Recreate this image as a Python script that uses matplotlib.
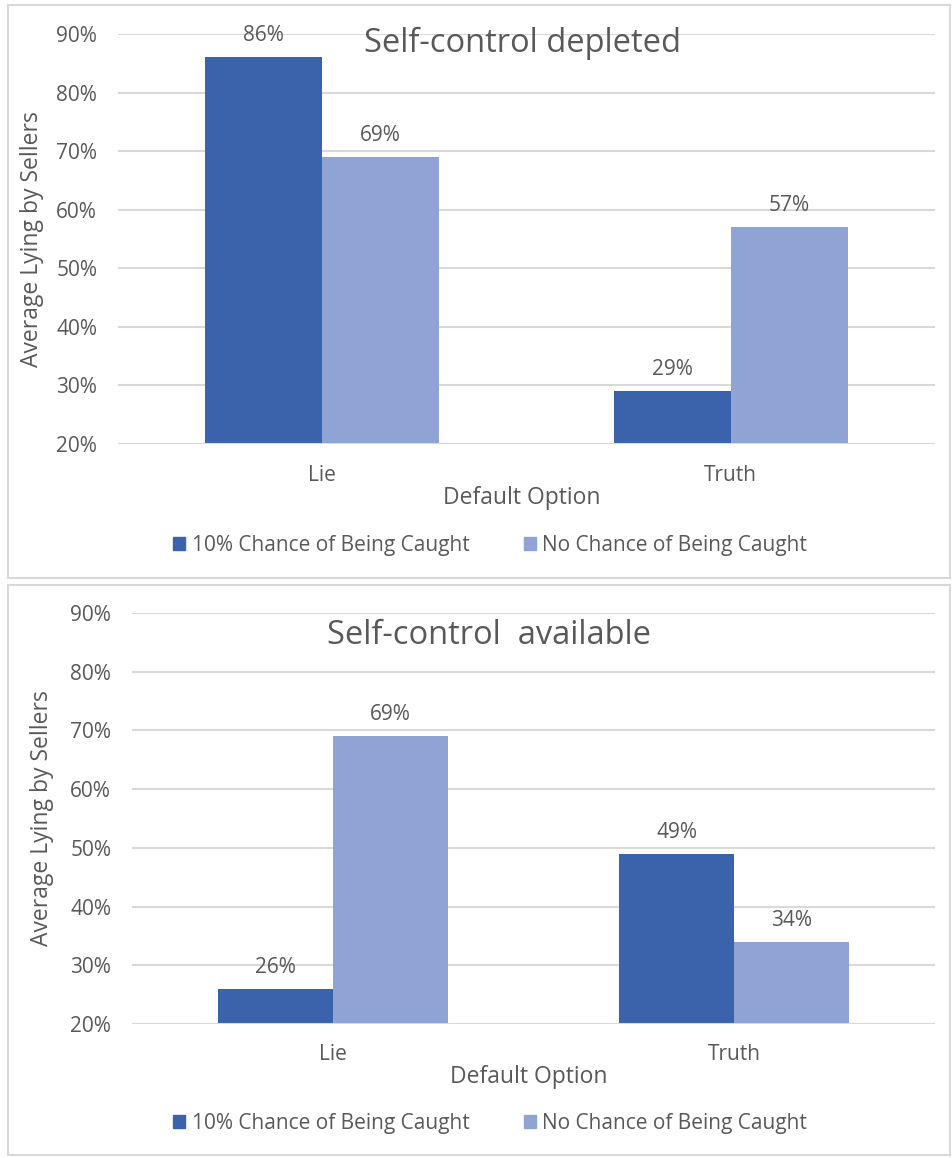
import matplotlib.pyplot as plt
from matplotlib.patches import Rectangle

categories = ["Lie", "Truth"]
series_names = ["10% Chance of Being Caught", "No Chance of Being Caught"]

depleted_caught = [0.86, 0.29]
depleted_no_chance = [0.69, 0.57]
available_caught = [0.26, 0.49]
available_no_chance = [0.69, 0.34]

yticks = [0.2, 0.3, 0.4, 0.5, 0.6, 0.7, 0.8, 0.9]

DARK = "#3A63AB"
LIGHT = "#8FA4D5"
GREY_TEXT = "#595959"
GRID = "#D9D9D9"
FONT = ["Open Sans", "DejaVu Sans"]

W, H = 952, 1158
fig = plt.figure(figsize=(W / 100, H / 100), dpi=100)


def fx(px):
    return px / W


def fy(py):
    return 1 - py / H


def draw_panel(box, ax_rect, title, title_xy, vals_a, vals_b, text_rows, ylab_x):
    # light frame round each chart
    x0, y0, x1, y1 = box
    fig.patches.append(Rectangle((fx(x0), fy(y1)), fx(x1 - x0), (y1 - y0) / H,
                                 transform=fig.transFigure, fill=False,
                                 edgecolor=GRID, linewidth=1.5))
    left, top, right, bottom = ax_rect
    ax = fig.add_axes([fx(left), fy(bottom), fx(right - left), (bottom - top) / H])
    w = 0.286
    xs = range(len(categories))
    bars_a = ax.bar([x - w / 2 for x in xs], vals_a, width=w, color=DARK, zorder=2)
    bars_b = ax.bar([x + w / 2 for x in xs], vals_b, width=w, color=LIGHT, zorder=2)
    for bars, vals in ((bars_a, vals_a), (bars_b, vals_b)):
        for b, v in zip(bars, vals):
            ax.annotate(f"{v * 100:.0f}%", (b.get_x() + b.get_width() / 2, v),
                        xytext=(0, 8), textcoords="offset points", ha="center",
                        va="bottom", fontsize=15, color=GREY_TEXT, family=FONT)
    ax.set_xlim(-0.5, 1.5)
    ax.set_ylim(0.2, 0.9)
    ax.set_yticks(yticks)
    ax.set_yticklabels([f"{t * 100:.0f}%" for t in yticks], family=FONT,
                       fontsize=15, color=GREY_TEXT)
    ax.tick_params(axis="y", length=0, pad=15)
    ax.set_xticks([])
    ax.grid(axis="y", color=GRID, linewidth=1.5, zorder=0)
    for s in ax.spines.values():
        s.set_visible(False)
    ax.axhline(0.2, color=GRID, linewidth=1.5, zorder=3)

    cat_y, xlab_y, leg_y = text_rows
    for i, c in enumerate(categories):
        cx = left + (right - left) * (i + 0.5) / len(categories)
        fig.text(fx(cx), fy(cat_y), c, ha="center", va="center", fontsize=15,
                 color=GREY_TEXT, family=FONT)
    fig.text(fx((left + right) / 2 - 5), fy(xlab_y), "Default Option", ha="center",
             va="center", fontsize=16.5, color=GREY_TEXT, family=FONT)
    fig.text(fx(ylab_x), fy((top + bottom) / 2), "Average Lying by Sellers",
             rotation=90, ha="center", va="center", fontsize=16.5,
             color=GREY_TEXT, family=FONT)
    fig.text(fx(title_xy[0]), fy(title_xy[1]), title, ha="center", va="center",
             fontsize=23.5, color=GREY_TEXT, family=FONT)

    # legend row
    handles = [Rectangle((0, 0), 1, 1, color=DARK), Rectangle((0, 0), 1, 1, color=LIGHT)]
    fig.legend(handles, series_names, loc="center", ncol=2,
               bbox_to_anchor=(fx(490), fy(leg_y)), frameon=False,
               prop={"family": FONT, "size": 15}, labelcolor=GREY_TEXT,
               handlelength=0.6, handleheight=0.6, handletextpad=0.3,
               columnspacing=2.6)
    return ax


draw_panel((8, 5, 950, 578), (118, 34, 935, 444), "Self-control depleted", (522, 43),
           depleted_caught, depleted_no_chance, (475, 498, 545), 32)
draw_panel((8, 585, 950, 1155), (132, 613, 935, 1024), "Self-control  available",
           (489, 636), available_caught, available_no_chance, (1055, 1077, 1123), 42)

fig.savefig("out.png", dpi=100)
